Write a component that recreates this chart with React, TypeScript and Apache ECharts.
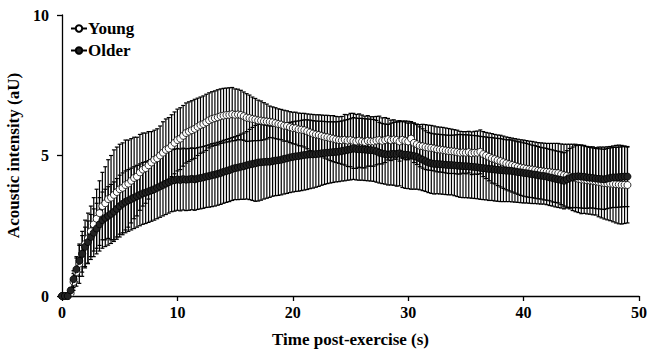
import React, { useEffect, useRef } from "react";
import * as echarts from "echarts";

// Sampling step of the recordings (s)
const TIME_STEP = 0.25;

const X_TICKS = [0, 10, 20, 30, 40, 50];
const Y_TICKS = [0, 5, 10];

// Young: mean and SD (aU), one value per 0.25 s from 0 to 49 s
const youngMean = [
  0, 0, 0, 0.1,
  0.5, 0.85, 1.15, 1.5,
  1.85, 2.05, 2.3, 2.55,
  2.75, 2.95, 3.2, 3.3,
  3.45, 3.5, 3.6, 3.7,
  3.8, 3.85, 3.95, 4.0,
  4.1, 4.2, 4.25, 4.4,
  4.5, 4.55, 4.65, 4.75,
  4.85, 4.9, 5.0, 5.1,
  5.2, 5.25, 5.35, 5.45,
  5.55, 5.6, 5.7, 5.8,
  5.85, 5.9, 5.95, 6.02,
  6.08, 6.12, 6.18, 6.25,
  6.3, 6.33, 6.36, 6.4,
  6.42, 6.44, 6.45, 6.47,
  6.45, 6.46, 6.44, 6.4,
  6.35, 6.33, 6.3, 6.28,
  6.25, 6.24, 6.22, 6.21,
  6.2, 6.18, 6.15, 6.12,
  6.1, 6.06, 6.05, 6.01,
  5.98, 5.97, 5.93, 5.92,
  5.9, 5.86, 5.82, 5.78,
  5.75, 5.73, 5.7, 5.67,
  5.65, 5.62, 5.6, 5.57,
  5.55, 5.54, 5.56, 5.53,
  5.55, 5.52, 5.5, 5.53,
  5.5, 5.48, 5.52, 5.5,
  5.5, 5.53, 5.55, 5.52,
  5.55, 5.58, 5.54, 5.57,
  5.55, 5.5, 5.56, 5.52,
  5.5, 5.6, 5.45, 5.4,
  5.35, 5.33, 5.3, 5.28,
  5.27, 5.25, 5.22, 5.21,
  5.2, 5.18, 5.16, 5.15,
  5.14, 5.12, 5.1, 5.11,
  5.1, 5.12, 5.08, 5.1,
  5.1, 5.13, 5.05, 5.0,
  4.95, 4.9, 4.87, 4.83,
  4.8, 4.76, 4.72, 4.69,
  4.66, 4.63, 4.6, 4.57,
  4.55, 4.53, 4.51, 4.5,
  4.48, 4.46, 4.45, 4.43,
  4.42, 4.41, 4.39, 4.38,
  4.37, 4.33, 4.3, 4.28,
  4.25, 4.22, 4.2, 4.17,
  4.15, 4.14, 4.12, 4.11,
  4.1, 4.08, 4.06, 4.04,
  4.02, 4.01, 4.0, 3.99,
  3.98, 3.97, 3.96, 3.96,
  3.95,
];

const youngSD = [
  0, 0, 0, 0.1,
  0.3, 0.5, 0.7, 0.8,
  0.85, 0.9, 0.9, 0.95,
  1.05, 1.15, 1.2, 1.3,
  1.4, 1.5, 1.6, 1.6,
  1.6, 1.6, 1.6, 1.55,
  1.5, 1.45, 1.4, 1.35,
  1.3, 1.25, 1.2, 1.1,
  1.05, 1.05, 1.05, 1.1,
  1.1, 1.1, 1.1, 1.1,
  1.1, 1.1, 1.08, 1.07,
  1.06, 1.05, 1.05, 1.02,
  1.0, 1.0, 1.0, 0.98,
  0.97, 0.97, 0.98, 0.97,
  0.97, 0.96, 0.96, 0.95,
  0.92, 0.9, 0.88, 0.86,
  0.85, 0.82, 0.78, 0.75,
  0.72, 0.7, 0.66, 0.62,
  0.56, 0.55, 0.55, 0.54,
  0.54, 0.55, 0.54, 0.55,
  0.56, 0.57, 0.58, 0.58,
  0.6, 0.62, 0.65, 0.68,
  0.7, 0.72, 0.74, 0.76,
  0.78, 0.8, 0.82, 0.82,
  0.83, 0.85, 0.9, 0.92,
  0.95, 0.98, 0.96, 0.95,
  0.94, 0.92, 0.9, 0.88,
  0.88, 0.86, 0.85, 0.82,
  0.8, 0.74, 0.72, 0.7,
  0.68, 0.7, 0.66, 0.67,
  0.65, 0.6, 0.7, 0.72,
  0.75, 0.78, 0.8, 0.8,
  0.8, 0.8, 0.8, 0.8,
  0.8, 0.8, 0.8, 0.79,
  0.78, 0.78, 0.76, 0.74,
  0.75, 0.74, 0.76, 0.76,
  0.77, 0.78, 0.8, 0.82,
  0.85, 0.88, 0.88, 0.9,
  0.92, 0.93, 0.94, 0.95,
  0.96, 0.97, 0.98, 0.99,
  1.0, 1.0, 1.0, 1.0,
  1.0, 1.0, 1.0, 1.01,
  1.01, 1.02, 1.04, 1.05,
  1.06, 1.08, 1.1, 1.12,
  1.15, 1.18, 1.2, 1.2,
  1.22, 1.2, 1.2, 1.2,
  1.21, 1.2, 1.24, 1.26,
  1.28, 1.3, 1.32, 1.35,
  1.38, 1.4, 1.4, 1.38,
  1.35,
];

// Older: mean and SD (aU)
const olderMean = [
  0, 0, 0, 0.2,
  0.6, 0.95, 1.25, 1.5,
  1.75, 1.92, 2.1, 2.25,
  2.4, 2.55, 2.7, 2.78,
  2.85, 2.92, 3.0, 3.1,
  3.2, 3.28, 3.35, 3.4,
  3.45, 3.5, 3.55, 3.6,
  3.65, 3.68, 3.72, 3.76,
  3.8, 3.85, 3.9, 3.95,
  4.0, 4.05, 4.1, 4.12,
  4.15, 4.13, 4.16, 4.14,
  4.15, 4.17, 4.15, 4.18,
  4.2, 4.22, 4.25, 4.27,
  4.3, 4.32, 4.35, 4.38,
  4.42, 4.45, 4.48, 4.52,
  4.55, 4.57, 4.6, 4.62,
  4.65, 4.68, 4.7, 4.72,
  4.75, 4.76, 4.77, 4.78,
  4.78, 4.8, 4.82, 4.83,
  4.85, 4.88, 4.9, 4.93,
  4.95, 4.97, 4.98, 5.0,
  5.02, 5.03, 5.04, 5.04,
  5.05, 5.06, 5.08, 5.09,
  5.1, 5.11, 5.12, 5.13,
  5.14, 5.16, 5.18, 5.2,
  5.22, 5.25, 5.23, 5.22,
  5.22, 5.21, 5.2, 5.19,
  5.18, 5.15, 5.1, 5.07,
  5.05, 5.03, 5.05, 5.06,
  5.05, 5.08, 5.04, 5.03,
  5.02, 5.0, 4.98, 4.95,
  4.9, 4.85, 4.8, 4.75,
  4.72, 4.7, 4.7, 4.69,
  4.68, 4.67, 4.66, 4.66,
  4.65, 4.64, 4.63, 4.62,
  4.62, 4.61, 4.6, 4.59,
  4.58, 4.56, 4.55, 4.54,
  4.52, 4.52, 4.5, 4.49,
  4.48, 4.47, 4.46, 4.46,
  4.45, 4.43, 4.41, 4.4,
  4.38, 4.37, 4.35, 4.33,
  4.32, 4.3, 4.28, 4.27,
  4.25, 4.22, 4.2, 4.17,
  4.15, 4.13, 4.1, 4.15,
  4.2, 4.22, 4.25, 4.26,
  4.25, 4.24, 4.22, 4.21,
  4.2, 4.18, 4.17, 4.16,
  4.15, 4.18, 4.2, 4.22,
  4.22, 4.23, 4.24, 4.25,
  4.25,
];

const olderSD = [
  0, 0, 0, 0.1,
  0.3, 0.45, 0.55, 0.65,
  0.7, 0.75, 0.8, 0.85,
  0.9, 0.95, 1.0, 1.02,
  1.04, 1.05, 1.06, 1.08,
  1.1, 1.1, 1.1, 1.1,
  1.1, 1.1, 1.1, 1.1,
  1.1, 1.1, 1.1, 1.1,
  1.1, 1.1, 1.1, 1.1,
  1.1, 1.1, 1.1, 1.1,
  1.1, 1.1, 1.1, 1.1,
  1.1, 1.1, 1.1, 1.1,
  1.1, 1.1, 1.1, 1.11,
  1.12, 1.12, 1.12, 1.12,
  1.12, 1.12, 1.12, 1.12,
  1.12, 1.14, 1.16, 1.18,
  1.2, 1.25, 1.3, 1.35,
  1.37, 1.35, 1.32, 1.3,
  1.27, 1.25, 1.25, 1.25,
  1.25, 1.25, 1.25, 1.25,
  1.25, 1.25, 1.25, 1.25,
  1.25, 1.24, 1.22, 1.2,
  1.18, 1.16, 1.14, 1.12,
  1.1, 1.09, 1.08, 1.07,
  1.07, 1.07, 1.08, 1.08,
  1.09, 1.1, 1.1, 1.1,
  1.1, 1.1, 1.1, 1.1,
  1.1, 1.1, 1.08, 1.07,
  1.07, 1.08, 1.1, 1.12,
  1.14, 1.16, 1.18, 1.2,
  1.2, 1.2, 1.18, 1.15,
  1.12, 1.1, 1.08, 1.07,
  1.07, 1.07, 1.06, 1.06,
  1.06, 1.06, 1.06, 1.06,
  1.08, 1.1, 1.12, 1.12,
  1.12, 1.12, 1.12, 1.12,
  1.12, 1.12, 1.12, 1.12,
  1.12, 1.12, 1.12, 1.12,
  1.12, 1.11, 1.1, 1.1,
  1.1, 1.09, 1.08, 1.08,
  1.07, 1.06, 1.05, 1.04,
  1.03, 1.02, 1.01, 1.0,
  1.0, 1.0, 1.0, 1.0,
  1.0, 1.0, 1.0, 1.02,
  1.05, 1.08, 1.1, 1.12,
  1.12, 1.12, 1.1, 1.08,
  1.07, 1.07, 1.07, 1.07,
  1.07, 1.07, 1.07, 1.07,
  1.07, 1.07, 1.07, 1.07,
  1.07,
];

const FONT = "'Liberation Serif', 'Times New Roman', serif";

function meanPoints(mean: number[]) {
  return mean.map((v, i) => [i * TIME_STEP, v]);
}
function errPoints(mean: number[], sd: number[]) {
  return mean.map((v, i) => [i * TIME_STEP, v - sd[i], v + sd[i]]);
}

function renderErr(params: any, api: any) {
  const x = api.value(0);
  const lo = api.coord([x, api.value(1)]);
  const hi = api.coord([x, api.value(2)]);
  const cap = 2;
  const style = { stroke: "#000", lineWidth: 1.2 };
  return {
    type: "group",
    children: [
      { type: "line", shape: { x1: lo[0], y1: lo[1], x2: hi[0], y2: hi[1] }, style },
      { type: "line", shape: { x1: hi[0] - cap, y1: hi[1], x2: hi[0] + cap, y2: hi[1] }, style },
      { type: "line", shape: { x1: lo[0] - cap, y1: lo[1], x2: lo[0] + cap, y2: lo[1] }, style },
    ],
  };
}

export default function App() {
  const ref = useRef<HTMLDivElement>(null);
  useEffect(() => {
    if (!ref.current) return;
    const chart = echarts.init(ref.current, null, { renderer: "svg" });
    chart.setOption({
      animation: false,
      backgroundColor: "#fff",
      grid: { left: 62, right: 8, top: 15, bottom: 56, containLabel: false, outerBoundsMode: "none" },
      legend: {
        data: ["Young", "Older"],
        orient: "vertical",
        left: 65,
        top: 15,
        itemWidth: 16,
        itemHeight: 8,
        itemGap: 5,
        textStyle: { fontFamily: FONT, fontWeight: "bold", fontSize: 17, color: "#000", padding: [0, 0, 0, -4] },
      },
      xAxis: {
        type: "value",
        min: 0,
        max: 50,
        interval: 10,
        name: "Time post-exercise (s)",
        nameLocation: "middle",
        nameGap: 35,
        nameTextStyle: { fontFamily: FONT, fontWeight: "bold", fontSize: 17, color: "#000" },
        axisLine: { lineStyle: { color: "#000", width: 1.3 } },
        axisTick: { show: true, length: 5, lineStyle: { color: "#000", width: 1.3 } },
        axisLabel: {
          fontFamily: FONT, fontWeight: "bold", fontSize: 16, color: "#000", margin: 8,
          customValues: X_TICKS,
        },
        splitLine: { show: false },
      },
      yAxis: {
        type: "value",
        min: 0,
        max: 10,
        interval: 5,
        name: "Acoustic intensity (aU)",
        nameLocation: "middle",
        nameGap: 33,
        nameTextStyle: { fontFamily: FONT, fontWeight: "bold", fontSize: 17, color: "#000" },
        axisLine: { show: true, lineStyle: { color: "#000", width: 1.3 } },
        axisTick: { show: true, length: 5, lineStyle: { color: "#000", width: 1.3 } },
        axisLabel: {
          fontFamily: FONT, fontWeight: "bold", fontSize: 16, color: "#000", margin: 13,
          customValues: Y_TICKS,
        },
        splitLine: { show: false },
      },
      series: [
        {
          type: "custom",
          name: "Young SD",
          renderItem: renderErr,
          data: errPoints(youngMean, youngSD),
          encode: { x: 0, y: [1, 2] },
          z: 1,
        },
        {
          type: "custom",
          name: "Older SD",
          renderItem: renderErr,
          data: errPoints(olderMean, olderSD),
          encode: { x: 0, y: [1, 2] },
          z: 1,
        },
        {
          type: "line",
          name: "Young",
          data: meanPoints(youngMean),
          symbol: "circle",
          symbolSize: 7,
          showAllSymbol: true,
          lineStyle: { color: "#000", width: 1 },
          itemStyle: { color: "#fff", borderColor: "#000", borderWidth: 0.8 },
          z: 3,
        },
        {
          type: "line",
          name: "Older",
          data: meanPoints(olderMean),
          symbol: "circle",
          symbolSize: 7,
          showAllSymbol: true,
          lineStyle: { color: "#000", width: 1 },
          itemStyle: { color: "#222", borderColor: "#000", borderWidth: 0.8 },
          z: 4,
        },
      ],
    });
    return () => chart.dispose();
  }, []);
  return (
    <div
      ref={ref}
      style={{ position: "fixed", left: 0, top: 0, width: 647, height: 352, background: "#fff" }}
    />
  );
}
